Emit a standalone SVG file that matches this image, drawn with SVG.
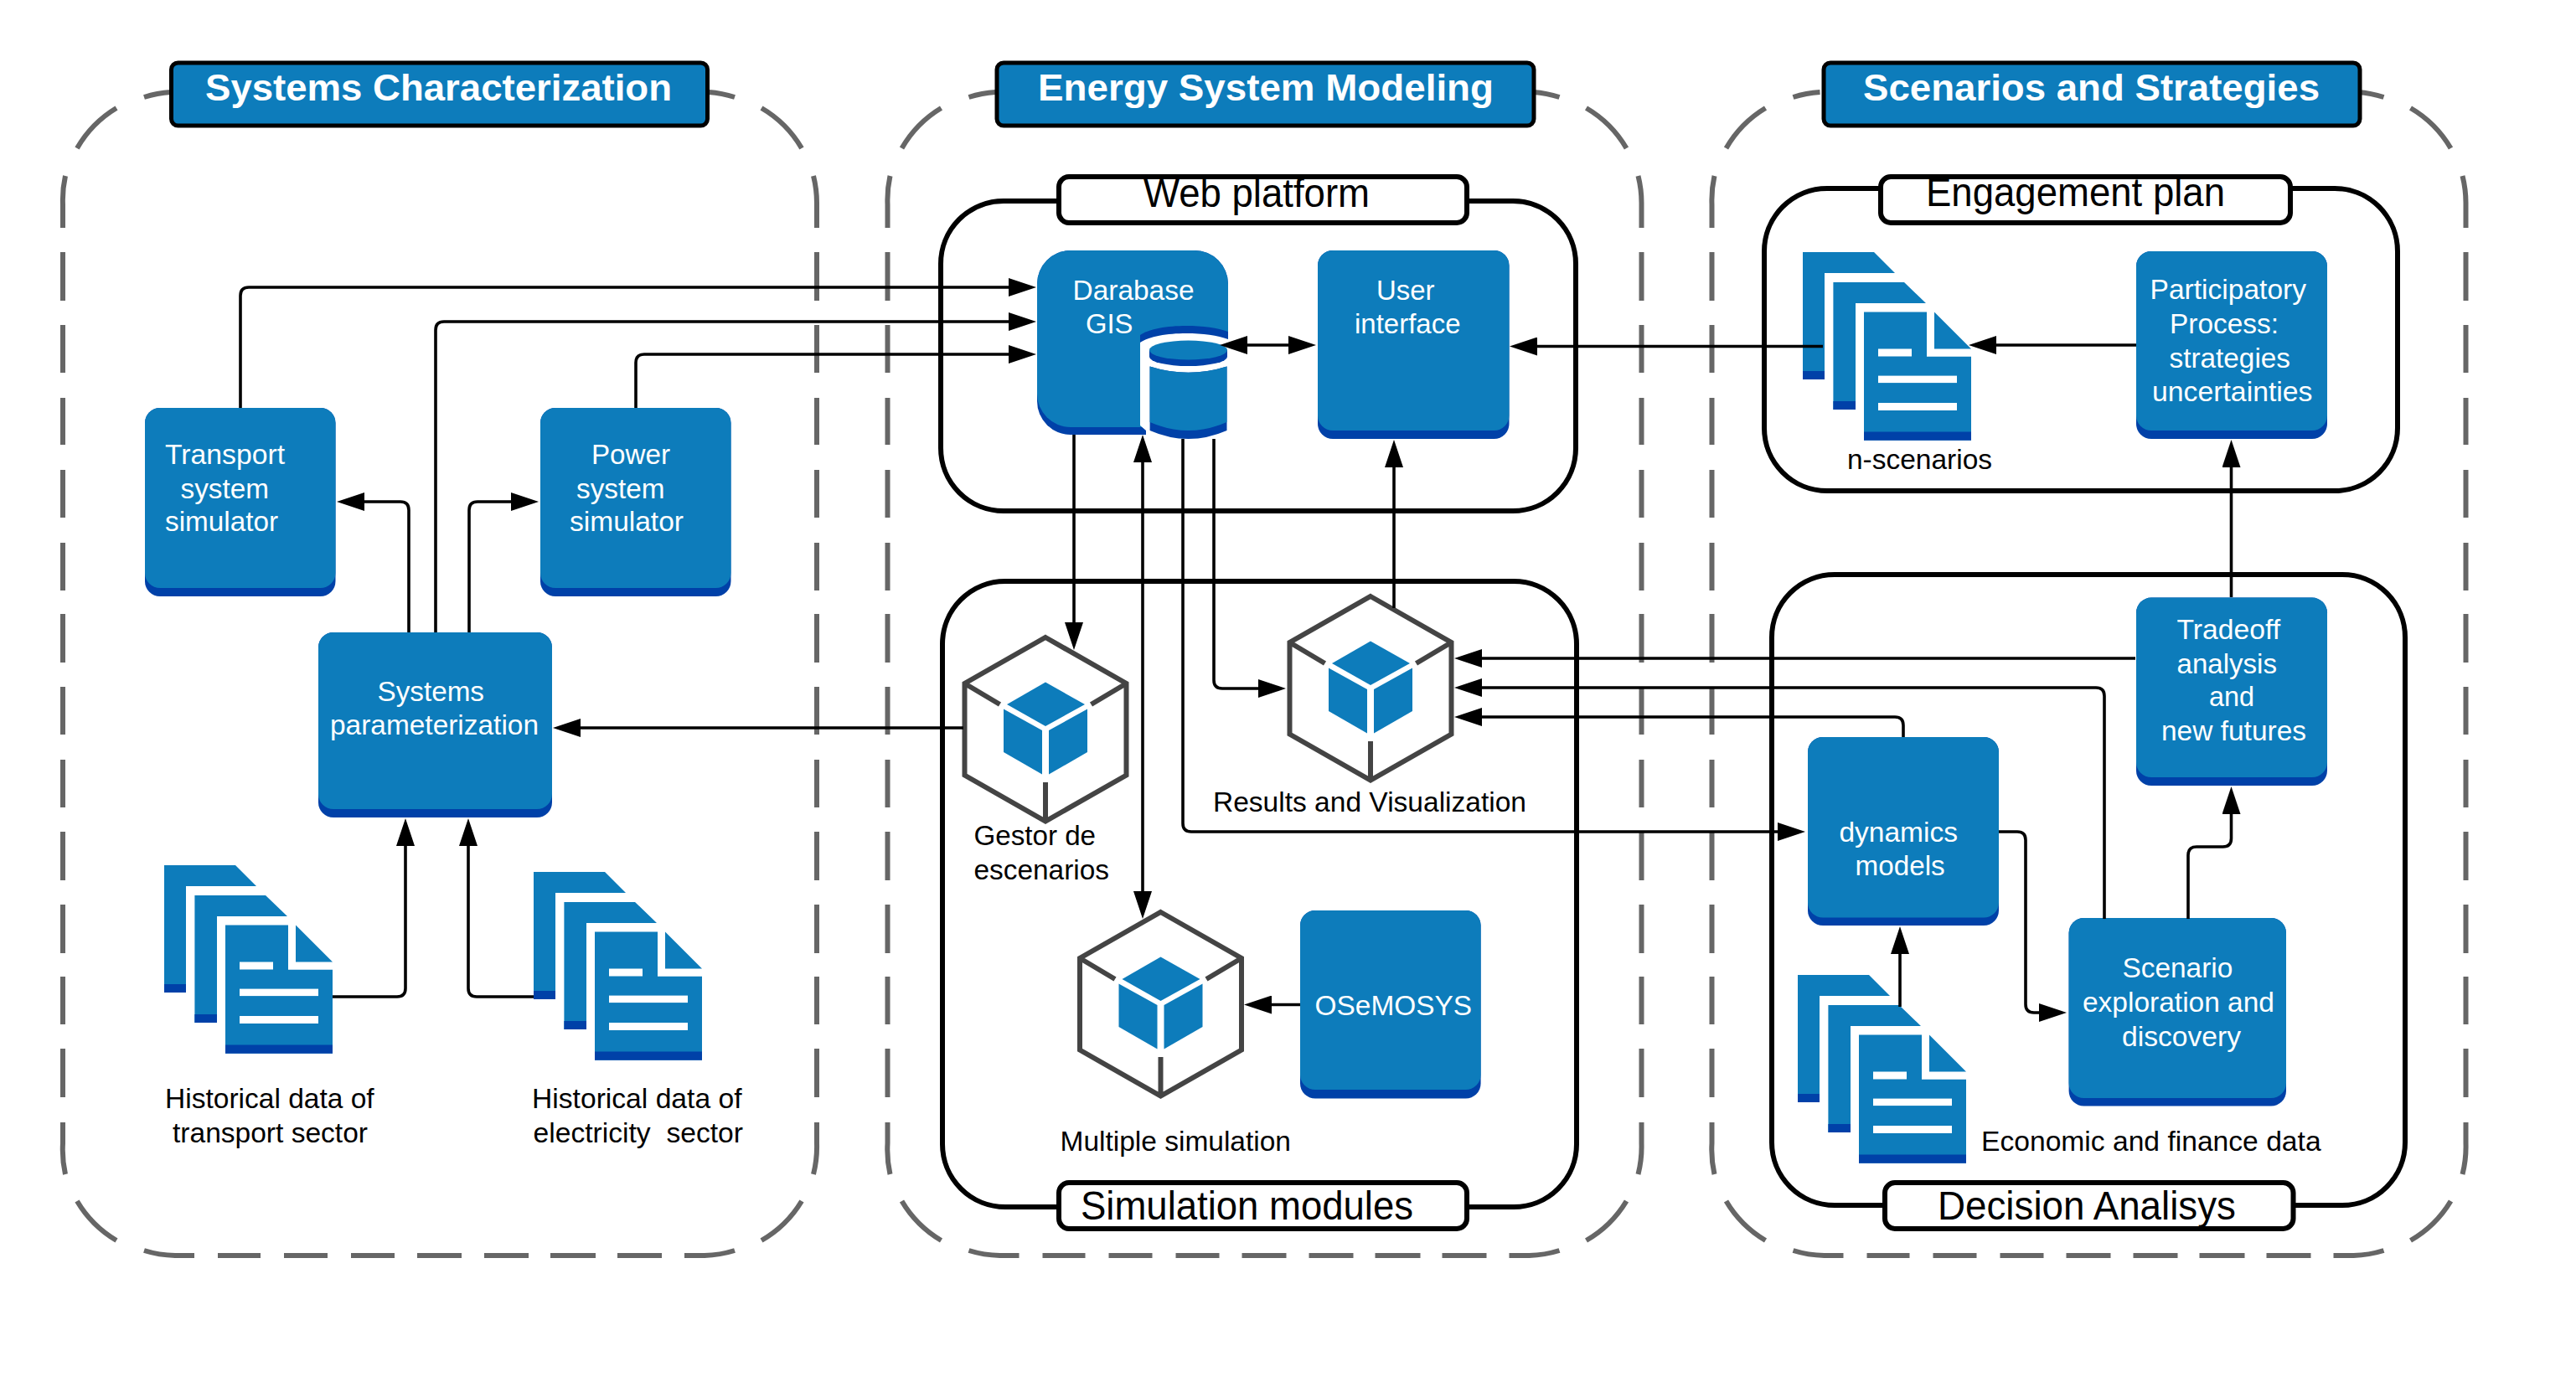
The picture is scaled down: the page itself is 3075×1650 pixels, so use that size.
<svg xmlns="http://www.w3.org/2000/svg" width="3075" height="1650" viewBox="0 0 3075 1650">
<style>
text{font-family:"Liberation Sans",Arial,sans-serif;white-space:pre}
.t{font-size:34px;fill:#fff;transform:translateY(-1.5px)}
.l{font-size:34px;fill:#000;transform:translateY(-1.5px)}
.h{font-size:45px;font-weight:700;fill:#fff}
.p{font-size:48px;fill:#000}
.hb{fill:#0d7cbb;stroke:#000;stroke-width:5}
.pn{fill:none;stroke:#000;stroke-width:6}
.lb{fill:#fff;stroke:#000;stroke-width:6}
.b{fill:#0d7cbb}
.d{fill:#0041a8}
.w{fill:#fff}
.fr{fill:none;stroke:#666;stroke-width:6}
.hx{fill:none;stroke:#444;stroke-width:6;stroke-linejoin:miter}
.c{fill:none;stroke:#000;stroke-width:3.6}
.e{marker-end:url(#a)}
.s{marker-start:url(#a)}
</style>
<defs>
<marker id="a" viewBox="0 0 33 22" markerWidth="33" markerHeight="22" refX="13" refY="11" orient="auto-start-reverse" markerUnits="userSpaceOnUse"><path d="M0 0L33 11L0 22Z"/></marker>
<path id="frame" class="fr" d="M75 272V244A134 134 0 0 1 78 210M92 177A134 134 0 0 1 139 129M172 116A134 134 0 0 1 204 110M846 110A134 134 0 0 1 877 116M909 129A134 134 0 0 1 957 177M971 210A134 134 0 0 1 975 244V272M75 301V359M75 388V445M75 475V531M75 561V618M75 648V705M75 733V791M75 820V877M75 907V964M75 993V1051M75 1080V1138M75 1166V1223M75 1252V1310M975 301V359M975 388V445M975 475V531M975 561V618M975 648V705M975 733V791M975 820V877M975 907V964M975 993V1051M975 1080V1138M975 1166V1223M975 1252V1310M75 1340V1365A134 134 0 0 0 78 1402M92 1434A134 134 0 0 0 139 1481M172 1493A134 134 0 0 0 209 1499H232M260 1499H311M339 1499H391M419 1499H471M498 1499H551M578 1499H631M657 1499H711M737 1499H790M817 1499H841A134 134 0 0 0 877 1493M909 1481A134 134 0 0 0 957 1434M971 1402A134 134 0 0 0 975 1365V1340"/>
<g id="doc">
<path class="b" d="M0 0H85L110 25H26V152H0Z"/><rect class="d" x="0" y="142" width="26" height="10"/>
<path class="b" d="M36.400 36H121L147 61H63V188H36.400Z"/><rect class="d" x="36.400" y="178" width="26.600" height="10"/>
<path class="b" d="M73 71.600H148V124.700H201V224.700H73Z"/><path class="b" d="M157 71.600L201 115.500H157Z"/><rect class="d" x="73" y="214.500" width="128" height="10.200"/>
<rect class="w" x="90" y="115.500" width="40" height="9"/><rect class="w" x="90" y="147.600" width="94" height="8.500"/><rect class="w" x="90" y="180" width="94" height="9"/>
</g>
<g id="hex">
<path class="hx" d="M0 0L96.500 55V164.600L0 219.600L-96.500 164.600V55ZM-96.500 55L-54.500 80M96.500 55L54.500 80M0 219.600V173"/>
<path class="b" d="M0 53.600L47 80L0 106L-46 80Z"/><path class="b" d="M-50 85.600L-4 111V163.600L-50 137Z"/><path class="b" d="M4 111L50 85.600V137L4 163.600Z"/>
</g>
</defs>
<rect width="3075" height="1650" fill="#fff"/>

<g id="panel-characterization">
<use href="#frame"/>
<rect class="hb" x="204.500" y="75" width="640" height="75" rx="8"/>
<text class="h" x="245" y="120" textLength="557" lengthAdjust="spacingAndGlyphs">Systems Characterization</text>
</g>
<g id="panel-modeling">
<use href="#frame" x="984.500"/>
<rect class="hb" x="1190" y="75" width="641" height="75" rx="8"/>
<text class="h" x="1239" y="120" textLength="544" lengthAdjust="spacingAndGlyphs">Energy System Modeling</text>
</g>
<g id="panel-scenarios">
<use href="#frame" x="1968.500"/>
<rect class="hb" x="2177" y="75" width="640" height="75" rx="8"/>
<text class="h" x="2224" y="120" textLength="545" lengthAdjust="spacingAndGlyphs">Scenarios and Strategies</text>
</g>

<g id="web-platform">
<rect class="pn" x="1123" y="240" width="758" height="370" rx="75"/>
<rect class="lb" x="1264" y="211" width="487" height="55" rx="12"/>
<text class="p" x="1365" y="247" textLength="270" lengthAdjust="spacingAndGlyphs">Web platform</text>
</g>
<g id="simulation-modules">
<rect class="pn" x="1125" y="694" width="757" height="747" rx="75"/>
<rect class="lb" x="1264" y="1412" width="487" height="55" rx="12"/>
<text class="p" x="1290" y="1456" textLength="397" lengthAdjust="spacingAndGlyphs">Simulation modules</text>
</g>
<g id="engagement-plan">
<rect class="pn" x="2106" y="225" width="756" height="361" rx="75"/>
<rect class="lb" x="2245" y="211" width="489" height="55" rx="12"/>
<text class="p" x="2299" y="246" textLength="357" lengthAdjust="spacingAndGlyphs">Engagement plan</text>
</g>
<g id="decision-analysis">
<rect class="pn" x="2115" y="686" width="756" height="753" rx="75"/>
<rect class="lb" x="2250" y="1412" width="487.500" height="55" rx="12"/>
<text class="p" x="2313" y="1456" textLength="356" lengthAdjust="spacingAndGlyphs">Decision Analisys</text>
</g>

<g id="transport-simulator">
<rect class="d" x="173" y="487" width="227.500" height="225" rx="18"/><rect class="b" x="173" y="487" width="227.500" height="215" rx="18"/>
<text class="t" x="197" y="555" textLength="143" lengthAdjust="spacingAndGlyphs">Transport</text>
<text class="t" x="215.500" y="596" textLength="105.500" lengthAdjust="spacingAndGlyphs">system</text>
<text class="t" x="197" y="635" textLength="135" lengthAdjust="spacingAndGlyphs">simulator</text>
</g>
<g id="power-simulator">
<rect class="d" x="645" y="487" width="227.500" height="225" rx="18"/><rect class="b" x="645" y="487" width="227.500" height="215" rx="18"/>
<text class="t" x="706" y="555" textLength="94" lengthAdjust="spacingAndGlyphs">Power</text>
<text class="t" x="688" y="596" textLength="105.500" lengthAdjust="spacingAndGlyphs">system</text>
<text class="t" x="680" y="635" textLength="136" lengthAdjust="spacingAndGlyphs">simulator</text>
</g>
<g id="systems-parameterization">
<rect class="d" x="380" y="755" width="279" height="221" rx="18"/><rect class="b" x="380" y="755" width="279" height="211" rx="18"/>
<text class="t" x="450.500" y="838" textLength="127.500" lengthAdjust="spacingAndGlyphs">Systems</text>
<text class="t" x="394" y="878.500" textLength="249" lengthAdjust="spacingAndGlyphs">parameterization</text>
</g>
<g id="historical-transport">
<use href="#doc" x="196" y="1033"/>
<text class="l" x="197" y="1324" textLength="249.700" lengthAdjust="spacingAndGlyphs">Historical data of</text>
<text class="l" x="206" y="1365" textLength="233" lengthAdjust="spacingAndGlyphs">transport sector</text>
</g>
<g id="historical-electricity">
<use href="#doc" x="637" y="1041"/>
<text class="l" x="635" y="1324" textLength="250.500" lengthAdjust="spacingAndGlyphs">Historical data of</text>
<text class="l" x="636.500" y="1365" textLength="250.500" lengthAdjust="spacingAndGlyphs">electricity  sector</text>
</g>

<g id="database-gis">
<rect class="d" x="1238" y="299" width="228" height="220" rx="40"/><rect class="b" x="1238" y="299" width="228" height="211" rx="40"/>
<path class="d" d="M1361 400C1380 386 1440 386 1466 396V410H1361Z"/>
<path class="w" d="M1361 409C1380 395 1440 395 1466 405V520H1368L1368 514L1361 508Z"/>
<path class="d" d="M1372 418V426A46.500 11 0 0 0 1465 426V418Z"/>
<ellipse class="b" cx="1418.500" cy="418" rx="46.500" ry="11.500"/>
<path class="d" d="M1372.600 437.500Q1418.500 452 1464.500 437.500V514Q1418.500 534 1372.600 514Z"/>
<path class="b" d="M1372.600 437.500Q1418.500 452 1464.500 437.500V504Q1418.500 524 1372.600 504Z"/>
<text class="t" x="1280.500" y="359" textLength="145" lengthAdjust="spacingAndGlyphs">Darabase</text>
<text class="t" x="1296" y="399" textLength="56.500" lengthAdjust="spacingAndGlyphs">GIS</text>
</g>
<g id="user-interface">
<rect class="d" x="1573" y="299" width="228.500" height="225" rx="18"/><rect class="b" x="1573" y="299" width="228.500" height="215" rx="18"/>
<text class="t" x="1643" y="359" textLength="69.500" lengthAdjust="spacingAndGlyphs">User</text>
<text class="t" x="1617" y="399" textLength="126.500" lengthAdjust="spacingAndGlyphs">interface</text>
</g>
<g id="gestor-escenarios">
<use href="#hex" x="1248" y="761"/>
<text class="l" x="1162.500" y="1010.500" textLength="145.500" lengthAdjust="spacingAndGlyphs">Gestor de</text>
<text class="l" x="1162.500" y="1051.400" textLength="161.500" lengthAdjust="spacingAndGlyphs">escenarios</text>
</g>
<g id="results-visualization">
<use href="#hex" x="1636" y="712"/>
<text class="l" x="1448" y="970" textLength="374" lengthAdjust="spacingAndGlyphs">Results and Visualization</text>
</g>
<g id="multiple-simulation">
<use href="#hex" x="1385.500" y="1089"/>
<text class="l" x="1265.500" y="1375.600" textLength="275.500" lengthAdjust="spacingAndGlyphs">Multiple simulation</text>
</g>
<g id="osemosys">
<rect class="d" x="1552" y="1087" width="215.600" height="224.600" rx="18"/><rect class="b" x="1552" y="1087" width="215.600" height="214" rx="18"/>
<text class="t" x="1569.600" y="1213" textLength="187.400" lengthAdjust="spacingAndGlyphs">OSeMOSYS</text>
</g>

<g id="n-scenarios">
<use href="#doc" x="2152" y="301"/>
<text class="l" x="2205" y="561" textLength="173" lengthAdjust="spacingAndGlyphs">n-scenarios</text>
</g>
<g id="participatory-process">
<rect class="d" x="2550" y="300" width="228" height="224" rx="18"/><rect class="b" x="2550" y="300" width="228" height="214" rx="18"/>
<text class="t" x="2566.600" y="358.600" textLength="186.400" lengthAdjust="spacingAndGlyphs">Participatory</text>
<text class="t" x="2590" y="399" textLength="130" lengthAdjust="spacingAndGlyphs">Process:</text>
<text class="t" x="2589.500" y="440" textLength="144.500" lengthAdjust="spacingAndGlyphs">strategies</text>
<text class="t" x="2569" y="480.600" textLength="191.500" lengthAdjust="spacingAndGlyphs">uncertainties</text>
</g>
<g id="tradeoff-analysis">
<rect class="d" x="2550" y="713.600" width="228" height="224.400" rx="18"/><rect class="b" x="2550" y="713.600" width="228" height="214.400" rx="18"/>
<text class="t" x="2598.500" y="764" textLength="123.500" lengthAdjust="spacingAndGlyphs">Tradeoff</text>
<text class="t" x="2598.500" y="805" textLength="119.500" lengthAdjust="spacingAndGlyphs">analysis</text>
<text class="t" x="2637" y="844.500" textLength="54" lengthAdjust="spacingAndGlyphs">and</text>
<text class="t" x="2580" y="885" textLength="173" lengthAdjust="spacingAndGlyphs">new futures</text>
</g>
<g id="dynamics-models">
<rect class="d" x="2158" y="880" width="228" height="225" rx="18"/><rect class="b" x="2158" y="880" width="228" height="215.500" rx="18"/>
<text class="t" x="2195.400" y="1006" textLength="141.600" lengthAdjust="spacingAndGlyphs">dynamics</text>
<text class="t" x="2214.500" y="1046" textLength="107.200" lengthAdjust="spacingAndGlyphs">models</text>
</g>
<g id="scenario-exploration">
<rect class="d" x="2469.600" y="1096" width="259.400" height="224.600" rx="18"/><rect class="b" x="2469.600" y="1096" width="259.400" height="215" rx="18"/>
<text class="t" x="2533.400" y="1168" textLength="132" lengthAdjust="spacingAndGlyphs">Scenario</text>
<text class="t" x="2486" y="1209" textLength="229" lengthAdjust="spacingAndGlyphs">exploration and</text>
<text class="t" x="2533" y="1250" textLength="142" lengthAdjust="spacingAndGlyphs">discovery</text>
</g>
<g id="economic-finance-data">
<use href="#doc" x="2146" y="1164"/>
<text class="l" x="2365" y="1375.600" textLength="405.600" lengthAdjust="spacingAndGlyphs">Economic and finance data</text>
</g>

<g id="connectors">
<path class="c e" d="M287 487V353Q287 343 297 343H1217"/>
<path class="c e" d="M520 755V394Q520 384 530 384H1217"/>
<path class="c e" d="M759 487V433Q759 423 769 423H1217"/>
<path class="c e" d="M488 755V609Q488 599 478 599H422"/>
<path class="c e" d="M560 755V609Q560 599 570 599H623"/>
<path class="c e" d="M1150 869H680"/>
<path class="c e" d="M397 1190H474Q484 1190 484 1180V997"/>
<path class="c e" d="M637 1190H569Q559 1190 559 1180V997"/>
<path class="c e" d="M1282 519V756"/>
<path class="c e s" d="M1364 539V1077"/>
<path class="c e" d="M1412 524V983Q1412 993 1422 993H2135"/>
<path class="c e" d="M1449 524V812Q1449 822 1459 822H1515"/>
<path class="c e s" d="M1476 412H1551"/>
<path class="c e" d="M1664 726V545"/>
<path class="c e" d="M2549 786H1756"/>
<path class="c e" d="M2512 1097V831Q2512 821 2502 821H1756"/>
<path class="c e" d="M2272 880V866Q2272 856 2262 856H1756"/>
<path class="c e" d="M2386 993H2408Q2418 993 2418 1003V1199Q2418 1209 2428 1209H2447"/>
<path class="c e" d="M2612 1097V1021Q2612 1011 2622 1011H2653.500Q2663.500 1011 2663.500 1001V959"/>
<path class="c e" d="M2663.500 713V545"/>
<path class="c e" d="M2550 412H2370"/>
<path class="c e" d="M2176 413.500H1822"/>
<path class="c e" d="M2268 1202V1126"/>
<path class="c e" d="M1552 1199.500H1505"/>
</g>
</svg>
